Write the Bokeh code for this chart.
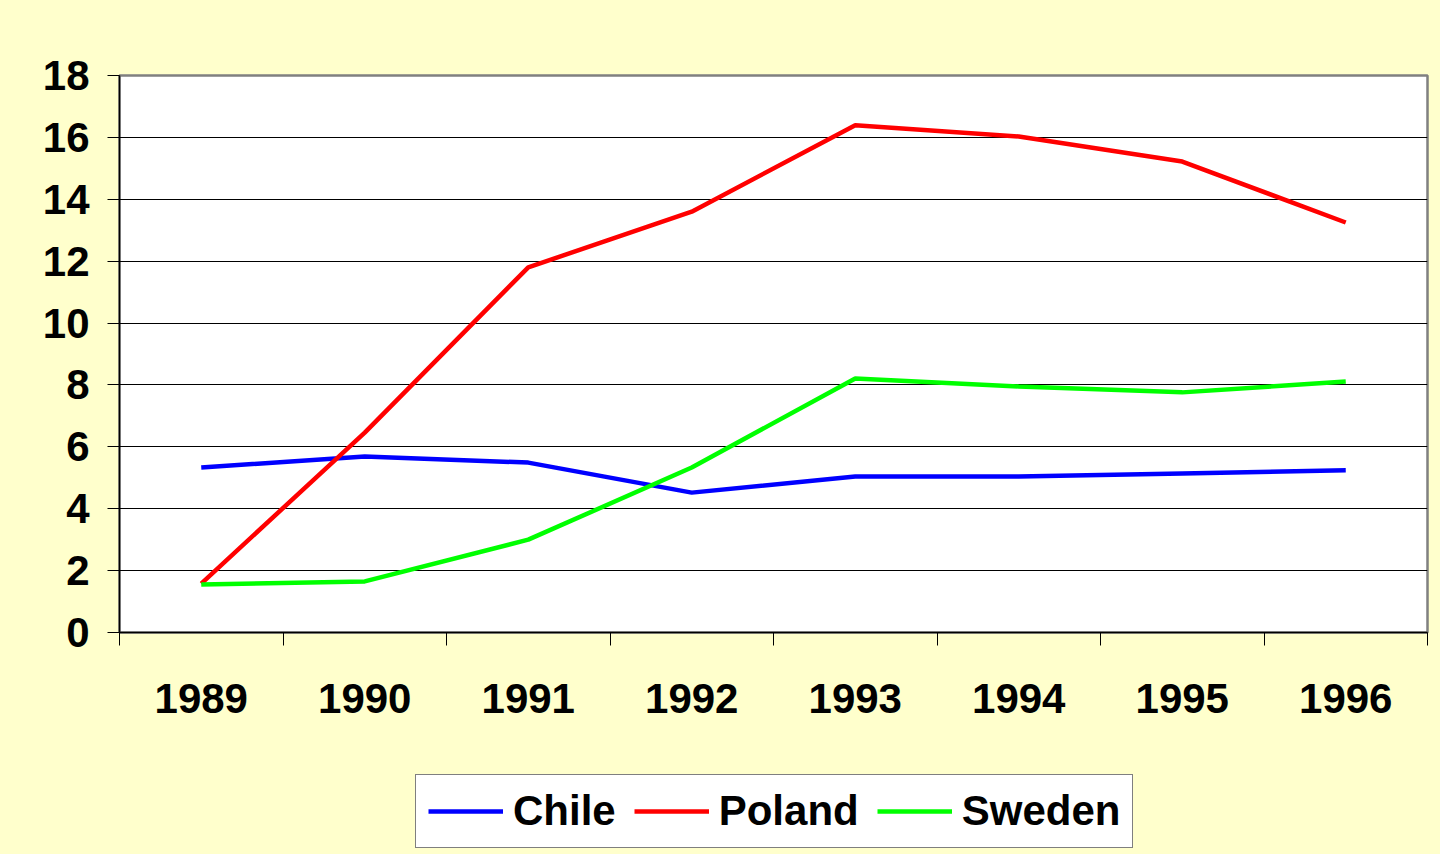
from bokeh.plotting import figure
from bokeh.models import Range1d, FixedTicker, Legend, LegendItem
from bokeh.layouts import column
from bokeh.embed import file_html
from bokeh.resources import INLINE

years = ["1989", "1990", "1991", "1992", "1993", "1994", "1995", "1996"]
chile = [5.33, 5.69, 5.49, 4.52, 5.04, 5.04, 5.14, 5.24]
poland = [1.58, 6.46, 11.8, 13.6, 16.39, 16.03, 15.22, 13.25]
sweden = [1.55, 1.65, 3.0, 5.33, 8.21, 7.95, 7.76, 8.11]
series_names = ["Chile", "Poland", "Sweden"]
series_colors = ["#0000FF", "#FF0000", "#00FF00"]
y_ticks = [0, 2, 4, 6, 8, 10, 12, 14, 16, 18]

FONT = "Liberation Sans"
FS = "42px"
BG = "#FFFFCC"
LW = 4.5

xs = [i + 0.5 for i in range(len(years))]

p = figure(width=1440, height=740, output_backend="svg", toolbar_location=None,
           x_range=Range1d(0, len(years)), y_range=Range1d(0, 18),
           min_border_left=119, min_border_right=13, min_border_top=75, min_border_bottom=108)
p.background_fill_color = "white"
p.border_fill_color = BG
p.outline_line_color = "#808080"
p.outline_line_width = 2.5

# axes
p.xaxis.ticker = FixedTicker(ticks=xs, minor_ticks=list(range(len(years) + 1)))
p.xaxis.major_label_overrides = {x: y for x, y in zip(xs, years)}
p.xaxis.major_tick_out = 0
p.xaxis.major_tick_in = 0
p.xaxis.minor_tick_out = 13
p.xaxis.minor_tick_in = 0
p.xaxis.minor_tick_line_color = "black"
p.xaxis.major_label_standoff = 38

p.yaxis.ticker = FixedTicker(ticks=y_ticks)
p.yaxis.major_tick_out = 12
p.yaxis.major_tick_in = 0
p.yaxis.minor_tick_line_color = None
p.yaxis.major_label_standoff = 18

for ax in (p.xaxis, p.yaxis):
    ax.axis_line_color = "black"
    ax.axis_line_width = 1.5
    ax.major_tick_line_color = "black"
    ax.major_label_text_font = FONT
    ax.major_label_text_font_style = "bold"
    ax.major_label_text_font_size = FS
    ax.major_label_text_color = "black"

p.xgrid.grid_line_color = None
p.ygrid.ticker = FixedTicker(ticks=y_ticks[1:-1])
p.ygrid.grid_line_color = "black"
p.ygrid.grid_line_width = 1

for ys, c in zip([chile, poland, sweden], series_colors):
    p.line(xs, ys, line_color=c, line_width=LW)

# legend panel below the chart (its frame is aligned with the chart's frame)
p2 = figure(width=1440, height=114, output_backend="svg", toolbar_location=None,
            x_range=Range1d(0, 1), y_range=Range1d(0, 1),
            min_border_left=0, min_border_right=0, min_border_top=0, min_border_bottom=0)
p2.axis.visible = False
p2.grid.grid_line_color = None
p2.outline_line_color = None
p2.background_fill_color = BG
p2.border_fill_color = BG

items = []
for name, c in zip(series_names, series_colors):
    # legend-only proxy glyph, placed outside the visible range
    r = p2.line([-5, -4], [-5, -5], line_color=c, line_width=LW)
    items.append(LegendItem(label=name, renderers=[r]))

legend = Legend(items=items, orientation="horizontal", location=(296, 6))
legend.label_text_font = FONT
legend.label_text_font_style = "bold"
legend.label_text_font_size = FS
legend.label_text_color = "black"
legend.glyph_width = 75
legend.glyph_height = 30
legend.label_standoff = 10
legend.spacing = 18
legend.padding = 12
legend.margin = 0
legend.border_line_color = "black"
legend.border_line_width = 1.5
legend.background_fill_color = "white"
legend.background_fill_alpha = 1
p2.add_layout(legend, "center")

layout = column(p, p2, spacing=0, styles={"background-color": BG})
html = file_html(layout, INLINE)
open("out.html", "w").write(html)
